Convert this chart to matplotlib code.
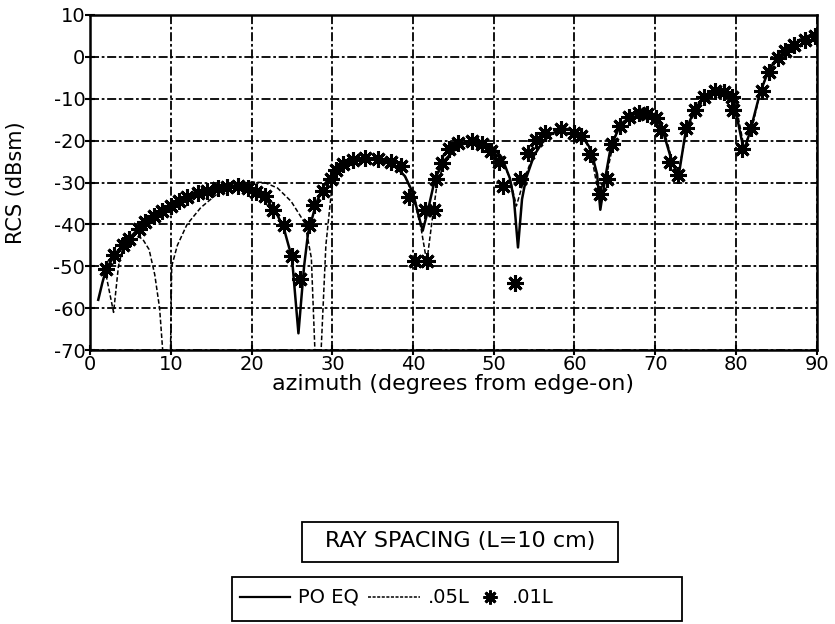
import numpy as np
import matplotlib
matplotlib.use('Agg')
import matplotlib.pyplot as plt
from matplotlib.lines import Line2D
from matplotlib.patches import Rectangle

plt.rcParams['font.family'] = ['DejaVu Sans']
plt.rcParams['axes.unicode_minus'] = False

# PO EQ (solid)
po_az = [1, 1.5, 2, 3, 4, 5, 6, 7, 8, 9, 10, 11, 12, 13, 14, 15, 16, 17, 18, 19,
         20, 21, 22, 23, 24, 25, 25.8, 26.5, 27, 28, 29, 30, 31, 32, 33, 34, 35, 36,
         37, 38, 39, 40, 40.7, 41.2, 41.8, 42.5, 43, 44, 45, 46, 47, 48, 49, 50, 51,
         52, 52.5, 53, 53.5, 54, 55, 56, 57, 58, 59, 60, 61, 62, 62.8, 63.2, 63.8,
         64.5, 65.5, 66.5, 67.5, 68.5, 69.5, 70.3, 71, 72, 72.9, 73.8, 74.8, 75.8,
         77, 78, 79, 79.7, 80.3, 81, 81.8, 83, 84, 85, 86, 87, 88, 89, 90]
po_db = [-58, -54, -50.5, -47.5, -45, -43, -41, -39.5, -38, -36.8, -35.6, -34.6,
         -33.7, -33, -32.4, -31.9, -31.5, -31.2, -31.2, -31.5, -32, -33, -34.5, -37,
         -41, -48, -66, -50, -42, -35, -30.5, -28, -26.5, -25.3, -24.7, -24.4, -24.4,
         -24.6, -25.2, -26.5, -28.5, -32.5, -38, -41.5, -37, -31, -28, -24.5, -22.5,
         -21, -20.3, -20.2, -20.8, -21.8, -24, -29, -34, -45.5, -34, -29, -23.5, -20.5,
         -18.6, -17.5, -17.2, -17.7, -19, -22, -28, -36.5, -29, -21.5, -17, -14.8,
         -13.6, -13.3, -13.8, -15.2, -18, -24.5, -28.5, -17.5, -13, -10, -8.4, -8.3,
         -9, -11.5, -16, -22.5, -17.5, -8.5, -3.5, -0.5, 1.3, 2.8, 4.1, 5, 5.5]

# .05L (dashed)
l05_az = [1.8, 2.9, 3.5, 4, 5, 5.5, 6.5, 7.3, 8, 8.6, 9.0, 9.5, 9.95, 10.1, 10.8,
          12, 13.7, 15.8, 17.8, 19.9, 21.6, 23.2, 24.9, 26.6, 27.4, 27.85, 28.2,
          28.6, 29.2, 30, 31, 32, 33, 34, 35, 36, 37, 38, 39, 40, 41, 41.7, 42.5,
          43, 44, 45, 46, 47, 48, 49, 50, 51, 52, 52.8, 53.8, 55, 56, 57, 58, 59,
          60, 61, 62, 63, 64, 65, 66, 67, 68, 69, 70, 71, 72, 72.8, 74, 75, 76, 77,
          78, 79, 80, 81, 82, 83, 84, 85, 86, 87, 88, 89, 90]
l05_db = [-50.5, -61, -50, -46, -43.5, -42.5, -43.5, -46, -52, -60, -70.5, -90,
          -70.5, -50, -45, -40, -36, -32.6, -30.6, -29.9, -30, -31.3, -34.5, -39.7,
          -48, -70.5, -90, -70.5, -45, -30, -26.5, -25.2, -24.6, -24.3, -24.4, -24.6,
          -25.2, -26.5, -28.5, -33, -41, -49, -37, -30, -24.8, -22.5, -21, -20.3,
          -20.2, -20.8, -22, -24.5, -29, -35.6, -29, -23, -20.3, -18.6, -17.5, -17.2,
          -17.8, -19, -22.5, -33, -28, -19, -15.5, -14, -13.4, -13.5, -14.5, -17,
          -24, -28, -17, -13, -10.3, -8.6, -8.3, -9, -11.5, -21.5, -17, -8.5, -3.5,
          -0.4, 1.3, 2.8, 4.1, 5, 5.5]

# .01L (asterisks)
l01_az = [1.9, 2.9, 4.1, 4.8, 6.0, 6.8, 7.9, 8.9, 10, 11, 12, 13.3, 14.5, 15.8, 17,
          18.3, 19.5, 20.5, 21.6, 22.7, 24, 25, 26, 27.1, 27.7, 28.8, 29.8, 30.4,
          31.3, 32.5, 34, 35.6, 37.3, 38.5, 39.5, 40.3, 41.5, 41.7, 42.6, 42.8, 43.6,
          44.4, 45.6, 47.3, 48.5, 49.7, 50.7, 51.1, 52.6, 53.2, 54.2, 55.2, 56.4,
          58.3, 59.9, 60.8, 61.9, 63.1, 64.0, 64.6, 65.7, 66.7, 68, 69, 70.1, 70.7,
          71.8, 72.8, 73.8, 74.9, 76.1, 77.4, 78.5, 79.5, 79.7, 80.8, 81.9, 83.2,
          84.1, 85.2, 86.1, 87.2, 88.5, 89.8]
l01_db = [-50.6, -47.4, -45, -43.5, -41, -39.4, -38, -36.8, -35.5, -34.5, -33.5,
          -32.6, -32, -31.4, -31, -30.8, -31.2, -32.3, -33.2, -36.6, -40.2, -47.6,
          -53, -40.2, -35.3, -32, -29.2, -27, -25.6, -24.7, -24.2, -24.4, -25, -26,
          -33.4, -48.8, -36.6, -48.8, -36.6, -29.2, -25.3, -22.1, -20.5, -20.1, -20.8,
          -22.4, -25, -30.8, -54, -29.2, -23, -19.8, -18.2, -17.2, -18.2, -18.8,
          -23.2, -32.7, -29.2, -20.8, -16.6, -14.4, -13.4, -13.7, -14.6, -17.5, -25,
          -28.2, -16.9, -12.7, -9.5, -8.2, -8.5, -9.5, -12.6, -21.9, -17.1, -8.2,
          -3.5, -0.3, 1.3, 2.8, 4.1, 5.1]

fig = plt.figure(figsize=(8.35, 6.24), dpi=100)
ax = fig.add_axes([0.108, 0.439, 0.870, 0.537])

ax.plot(po_az, po_db, color='black', lw=1.8)
ax.plot(l05_az, l05_db, color='black', lw=1.1, linestyle=(0, (3, 1.5)))
ax.plot(l01_az, l01_db, linestyle='none', marker=(8, 2, 0), markersize=12,
        markeredgewidth=2.2, color='black')

ax.set_xlim(0, 90)
ax.set_ylim(-70, 10)
ax.set_xticks(range(0, 91, 10))
ax.set_yticks(range(-70, 11, 10))
ax.grid(True, color='black', lw=1.3, linestyle=(0, (5, 1.5, 1.5, 1.5)))
for s in ax.spines.values():
    s.set_linewidth(1.8)
ax.tick_params(direction='inout', length=7, width=1.5, labelsize=14, pad=0)
ax.set_xlabel('azimuth (degrees from edge-on)', fontsize=16)
ax.xaxis.set_label_coords(0.5, -0.07)
ax.set_ylabel('RCS (dBsm)', fontsize=15, labelpad=20)

# "RAY SPACING" box
fig.add_artist(Rectangle((0.3617, 0.0994), 0.3784, 0.0641, transform=fig.transFigure,
                         fill=False, lw=1.3, edgecolor='black'))
fig.text(0.551, 0.133, 'RAY SPACING (L=10 cm)', fontsize=16, ha='center', va='center')

# legend box
fig.add_artist(Rectangle((0.2778, 0.005), 0.539, 0.0705, transform=fig.transFigure,
                         fill=False, lw=1.3, edgecolor='black'))
ly = 0.043
fig.add_artist(Line2D([0.287, 0.347], [ly, ly], color='black', lw=1.6))
fig.text(0.357, ly, 'PO EQ', fontsize=14, va='center')
fig.add_artist(Line2D([0.441, 0.503], [ly, ly], color='black', lw=1.1, linestyle=(0, (2, 1))))
fig.text(0.513, ly, '.05L', fontsize=14, va='center')
fig.add_artist(Line2D([0.587], [ly], linestyle='none', marker=(8, 2, 0), markersize=10,
                      markeredgewidth=2, color='black'))
fig.text(0.613, ly, '.01L', fontsize=14, va='center')

fig.savefig('out.png', dpi=100)
